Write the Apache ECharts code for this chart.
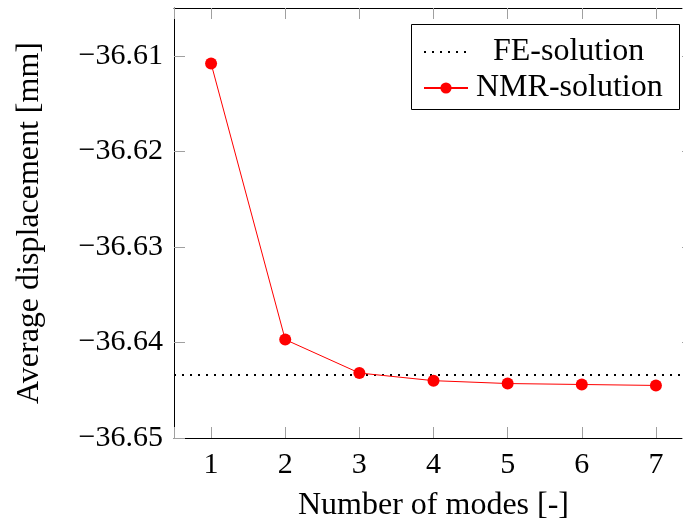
<!DOCTYPE html>
<html>
<head>
<meta charset="utf-8">
<script src="https://cdn.jsdelivr.net/npm/echarts@6/dist/echarts.min.js"></script>
<style>html,body{margin:0;padding:0;background:#fff;overflow:hidden;}#c{width:683px;height:522px;}</style>
</head>
<body>
<div id="c"></div>
<script>
const modes = [1, 2, 3, 4, 5, 6, 7];
const nmrValues = [-36.6108, -36.6397, -36.6432, -36.6440, -36.6443, -36.6444, -36.6445];
const feValue = -36.6434;
const xRange = [0.5, 7.5];
const yRange = [-36.65, -36.605];
const yTickStep = 0.01;

const FONT = '"Liberation Serif", "DejaVu Serif", serif';
const chart = echarts.init(document.getElementById('c'), null, {renderer: 'canvas'});

function fmtY(v) {
  const r = Math.round(v / yTickStep);
  if (Math.abs(v / yTickStep - r) > 1e-6) return '';
  return (r * yTickStep).toFixed(2).replace('-', '\u2212');
}
function fmtX(v) {
  return Math.abs(v - Math.round(v)) < 1e-6 ? String(Math.round(v)) : '';
}

const tickStyle = {show: true, inside: true, length: 11, lineStyle: {color: '#a0a0a0', width: 1}};
const axisLineStyle = {show: true, lineStyle: {color: '#000', width: 1}};

chart.setOption({
  animation: false,
  backgroundColor: '#fff',
  grid: {left: 174, top: 8, width: 519, height: 430, containLabel: false, outerBoundsMode: 'none'},
  xAxis: [{
    type: 'value', min: xRange[0], max: xRange[1], splitNumber: 7,
    axisLine: axisLineStyle, axisTick: tickStyle, splitLine: {show: false},
    axisLabel: {formatter: fmtX, fontFamily: FONT, fontSize: 30, color: '#000', margin: 12},
    name: 'Number of modes [-]', nameLocation: 'middle', nameGap: 52,
    nameTextStyle: {fontFamily: FONT, fontSize: 32, color: '#000'}
  }, {
    type: 'value', position: 'top', min: xRange[0], max: xRange[1], splitNumber: 7,
    axisLine: axisLineStyle, axisTick: tickStyle, splitLine: {show: false},
    axisLabel: {show: false}
  }],
  yAxis: [{
    type: 'value', min: yRange[0], max: yRange[1], interval: yTickStep,
    axisLine: axisLineStyle, axisTick: tickStyle, splitLine: {show: false},
    axisLabel: {formatter: fmtY, fontFamily: FONT, fontSize: 30, color: '#000', margin: 11,
                showMaxLabel: false},
    name: 'Average displacement [mm]', nameLocation: 'middle', nameGap: 128,
    nameTextStyle: {fontFamily: FONT, fontSize: 32, color: '#000'}
  }, {
    type: 'value', position: 'right', min: yRange[0], max: yRange[1], interval: yTickStep,
    axisLine: axisLineStyle, axisTick: tickStyle, splitLine: {show: false},
    axisLabel: {show: false}
  }],
  legend: [{
    data: ['FE-solution'], orient: 'vertical', left: 418, top: 31,
    itemWidth: 44, itemHeight: 14,
    itemStyle: {color: 'rgba(0,0,0,0)', borderWidth: 0, opacity: 0},
    textStyle: {fontFamily: FONT, fontSize: 32, color: '#000', padding: [0, 0, 0, 20]}
  }, {
    data: ['NMR-solution'], orient: 'vertical', left: 418, top: 67,
    itemWidth: 44, itemHeight: 14,
    textStyle: {fontFamily: FONT, fontSize: 32, color: '#000', padding: [0, 0, 0, 3]}
  }],
  graphic: [{
    type: 'rect', left: 409, top: 22, silent: true,
    shape: {width: 268, height: 85},
    style: {fill: 'none', stroke: '#000', lineWidth: 1}
  }],
  series: [{
    name: 'FE-solution', type: 'line', xAxisIndex: 0, yAxisIndex: 0,
    data: [[xRange[0], feValue], [xRange[1], feValue]],
    showSymbol: false, symbol: 'none',
    lineStyle: {color: '#000', width: 2, type: [2, 6]},
    itemStyle: {color: '#000'}, z: 1
  }, {
    name: 'NMR-solution', type: 'line', xAxisIndex: 0, yAxisIndex: 0,
    data: modes.map((m, i) => [m, nmrValues[i]]),
    symbol: 'circle', symbolSize: 12,
    lineStyle: {color: '#ff0000', width: 1},
    itemStyle: {color: '#ff0000'}, z: 3
  }]
});
</script>
</body>
</html>
